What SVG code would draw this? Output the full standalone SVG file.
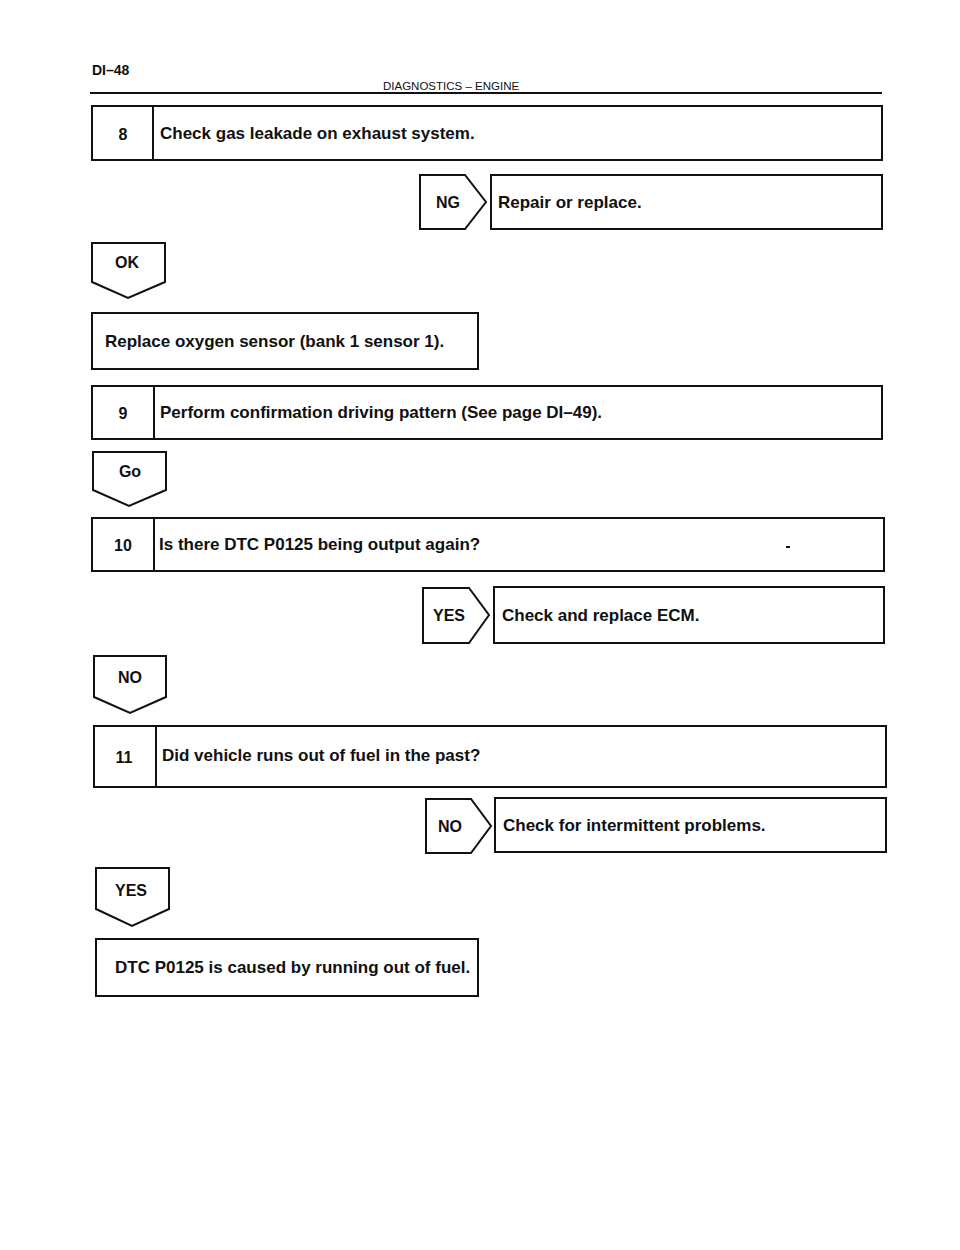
<svg xmlns="http://www.w3.org/2000/svg" width="960" height="1250" viewBox="0 0 960 1250">
<style>
.b{fill:#fff;stroke:#111;stroke-width:2}
.l{stroke:#111;stroke-width:2;fill:none}
.t{font-family:"Liberation Sans",Arial,sans-serif;font-weight:bold;font-size:17px;fill:#111}
.n{font-family:"Liberation Sans",Arial,sans-serif;font-weight:bold;font-size:16px;fill:#111;text-anchor:middle}
.h{font-family:"Liberation Sans",Arial,sans-serif;font-size:11.5px;fill:#111}
</style>
<rect width="960" height="1250" fill="#fff"/>
<g id="header">
<text x="92" y="75" class="t" style="font-size:14px">DI–48</text>
<text x="383" y="90" class="h">DIAGNOSTICS  –  ENGINE</text>
<line x1="90" y1="93" x2="882" y2="93" class="l"/>
</g>
<g id="step8">
<rect x="92" y="106" width="790" height="54" class="b"/>
<line x1="153" y1="106" x2="153" y2="160" class="l"/>
<text x="123" y="140" class="n">8</text>
<text x="160" y="139" class="t">Check gas leakade on exhaust system.</text>
</g>
<g id="repair">
<rect x="491" y="175" width="391" height="54" class="b"/>
<text x="498" y="208" class="t">Repair or replace.</text>
</g>
<g id="replace-o2">
<rect x="92" y="313" width="386" height="56" class="b"/>
<text x="105" y="347" class="t">Replace oxygen sensor (bank 1 sensor 1).</text>
</g>
<g id="step9">
<rect x="92" y="386" width="790" height="53" class="b"/>
<line x1="154" y1="386" x2="154" y2="439" class="l"/>
<text x="123" y="419" class="n">9</text>
<text x="160" y="418" class="t">Perform confirmation driving pattern (See page DI–49).</text>
</g>
<g id="step10">
<rect x="92" y="518" width="792" height="53" class="b"/>
<line x1="154" y1="518" x2="154" y2="571" class="l"/>
<text x="123" y="551" class="n">10</text>
<text x="159" y="550" class="t">Is there DTC P0125 being output again?</text>
<line x1="786" y1="547" x2="790" y2="547" class="l"/>
</g>
<g id="replace-ecm">
<rect x="494" y="587" width="390" height="56" class="b"/>
<text x="502" y="621" class="t">Check and replace ECM.</text>
</g>
<g id="step11">
<rect x="94" y="726" width="792" height="61" class="b"/>
<line x1="156" y1="726" x2="156" y2="787" class="l"/>
<text x="124" y="763" class="n">11</text>
<text x="162" y="761" class="t">Did vehicle runs out of fuel in the past?</text>
</g>
<g id="intermittent">
<rect x="495" y="798" width="391" height="54" class="b"/>
<text x="503" y="831" class="t">Check for intermittent problems.</text>
</g>
<g id="out-of-fuel">
<rect x="96" y="939" width="382" height="57" class="b"/>
<text x="115" y="973" class="t">DTC P0125 is caused by running out of fuel.</text>
</g>
<g id="connectors">
<g id="tag-ng">
<path d="M420 175 H465 L486 202 L465 229 H420 Z" class="b"/>
<text x="448" y="208" class="n">NG</text>
</g>
<g id="tag-ok">
<path d="M92 243 H165 V282 L128 298 L92 282 Z" class="b"/>
<text x="127" y="268" class="n">OK</text>
</g>
<g id="tag-go">
<path d="M93 452 H166 V490 L129 506 L93 490 Z" class="b"/>
<text x="130" y="477" class="n">Go</text>
</g>
<g id="tag-yes1">
<path d="M423 588 H469 L489 615 L469 643 H423 Z" class="b"/>
<text x="449" y="621" class="n">YES</text>
</g>
<g id="tag-no1">
<path d="M94 656 H166 V697 L130 713 L94 697 Z" class="b"/>
<text x="130" y="683" class="n">NO</text>
</g>
<g id="tag-no2">
<path d="M426 799 H471 L491 826 L471 853 H426 Z" class="b"/>
<text x="450" y="832" class="n">NO</text>
</g>
<g id="tag-yes2">
<path d="M96 868 H169 V909 L132 926 L96 909 Z" class="b"/>
<text x="131" y="896" class="n">YES</text>
</g>
</g>
</svg>
